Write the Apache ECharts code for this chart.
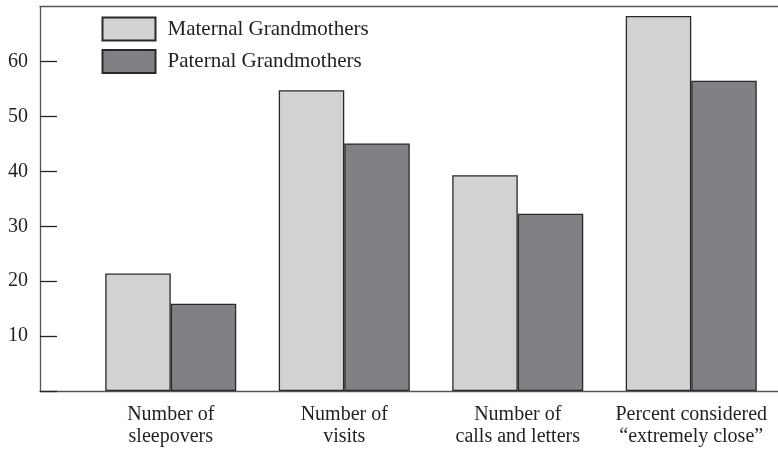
<!DOCTYPE html>
<html>
<head>
<meta charset="utf-8">
<script src="https://cdn.jsdelivr.net/npm/echarts@6/dist/echarts.min.js"></script>
<style>
html,body{margin:0;padding:0;background:#fff;}
#c{width:778px;height:454px;}
</style>
</head>
<body>
<div id="c"></div>
<script>
var categories = ['Number of\nsleepovers', 'Number of\nvisits', 'Number of\ncalls and letters', 'Percent considered\n\u201Cextremely close\u201D'];
var seriesNames = ['Maternal Grandmothers', 'Paternal Grandmothers'];
var maternal = [21.4, 54.8, 39.3, 68.3];
var paternal = [15.9, 45.1, 32.3, 56.5];
var yTickLabels = [10, 20, 30, 40, 50, 60];
var yMin = 0, yMax = 70, yStep = 10;

var FONT = '"Liberation Serif", "DejaVu Serif", serif';
var TXT = '#231f20';
var chart = echarts.init(document.getElementById('c'), null, {renderer: 'canvas'});
chart.setOption({
  animation: false,
  backgroundColor: '#ffffff',
  legend: {
    data: seriesNames,
    orient: 'vertical',
    left: 101.5,
    top: 16.5,
    padding: 0,
    itemWidth: 53,
    itemHeight: 23,
    itemGap: 7.5,
    icon: 'rect',
    textStyle: {fontFamily: FONT, fontSize: 21, lineHeight: 23, color: TXT, padding: [0, 0, 0, 7]}
  },
  grid: [
    {left: 40, right: 0, top: 6.7, bottom: 63},
    {left: 84, right: -6, top: 6.7, bottom: 63}
  ],
  xAxis: [
    {gridIndex: 0, type: 'value', position: 'bottom', min: 0, max: 1,
      axisLine: {show: true, lineStyle: {color: '#555', width: 1.3}},
      axisTick: {show: false}, axisLabel: {show: false}, splitLine: {show: false}},
    {gridIndex: 0, type: 'value', position: 'top', min: 0, max: 1,
      axisLine: {show: true, lineStyle: {color: '#555', width: 1.3}},
      axisTick: {show: false}, axisLabel: {show: false}, splitLine: {show: false}},
    {gridIndex: 1, type: 'category', data: categories, boundaryGap: true,
      axisLine: {show: false}, axisTick: {show: false}, splitLine: {show: false},
      axisLabel: {fontFamily: FONT, fontSize: 20, lineHeight: 22, color: TXT, margin: 13, interval: 0}}
  ],
  yAxis: [
    {gridIndex: 0, type: 'value', min: yMin, max: yMax, interval: yStep,
      axisLine: {show: true, lineStyle: {color: '#555', width: 1.3}},
      axisTick: {show: true, inside: true, length: 17, customValues: [yMin].concat(yTickLabels),
        lineStyle: {color: '#222', width: 1.3}},
      splitLine: {show: false},
      axisLabel: {fontFamily: FONT, fontSize: 20, color: TXT, margin: 12, customValues: yTickLabels}},
    {gridIndex: 1, type: 'value', min: yMin, max: yMax, show: false}
  ],
  series: [
    {name: seriesNames[0], type: 'bar', xAxisIndex: 2, yAxisIndex: 1, data: maternal,
      barWidth: 65.5, barGap: '0%',
      itemStyle: {color: '#d1d2d4', borderColor: '#2a2829', borderWidth: 1.3}},
    {name: seriesNames[1], type: 'bar', xAxisIndex: 2, yAxisIndex: 1, data: paternal,
      barWidth: 65.5, barGap: '0%',
      itemStyle: {color: '#808184', borderColor: '#2a2829', borderWidth: 1.3}}
  ]
});
</script>
</body>
</html>
